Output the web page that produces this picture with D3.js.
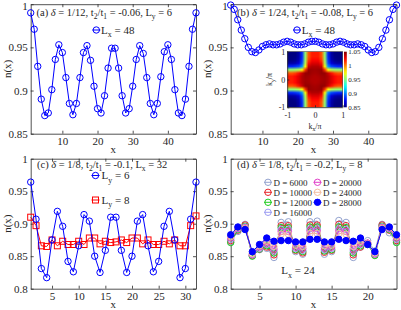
<!DOCTYPE html>
<html>
<head>
<meta charset="utf-8">
<script src="https://cdn.jsdelivr.net/npm/d3@7"></script>
<style>
body { margin: 0; background: #fff; }
svg { display: block; font-family: "Liberation Serif", "Times New Roman", serif; }
</style>
</head>
<body>
<svg id="fig" width="401" height="310"></svg>
<script>
// ---- data ----
var ticksX48 = [10, 20, 30, 40];
var ticksX32 = [5, 10, 15, 20, 25, 30];
var ticksX24 = [5, 10, 15, 20];
var ticksYTop = [0.85, 0.9, 0.95, 1];
var ticksYBot = [0.8, 0.85, 0.9, 0.95, 1];

// (a) Lx = 48
var nA = [0.990, 0.971, 0.928, 0.890, 0.871, 0.874, 0.901, 0.936, 0.953, 0.944, 0.915, 0.885,
          0.872, 0.885, 0.915, 0.944, 0.952, 0.935, 0.905, 0.879, 0.874, 0.894, 0.926, 0.949,
          0.949, 0.926, 0.894, 0.874, 0.879, 0.905, 0.936, 0.952, 0.943, 0.915, 0.885, 0.872,
          0.885, 0.916, 0.945, 0.953, 0.936, 0.901, 0.874, 0.871, 0.890, 0.928, 0.971, 0.990];
// (b) Lx = 48
var nB = [0.999, 0.994, 0.982, 0.970, 0.960, 0.950, 0.945, 0.944, 0.947, 0.951, 0.953, 0.954,
          0.953, 0.953, 0.954, 0.956, 0.957, 0.956, 0.954, 0.953, 0.953, 0.954, 0.956, 0.957,
          0.957, 0.956, 0.954, 0.953, 0.953, 0.954, 0.956, 0.957, 0.956, 0.954, 0.953, 0.953,
          0.954, 0.953, 0.951, 0.947, 0.944, 0.945, 0.950, 0.960, 0.970, 0.982, 0.994, 0.999];
// (c) Lx = 32
var nC6 = [0.964, 0.907, 0.831, 0.817, 0.875, 0.919, 0.896, 0.842, 0.826, 0.866, 0.914, 0.904,
           0.850, 0.825, 0.859, 0.910, 0.910, 0.859, 0.825, 0.850, 0.904, 0.914, 0.866, 0.826,
           0.842, 0.896, 0.919, 0.875, 0.817, 0.831, 0.907, 0.964];
var nC8 = [0.910, 0.897, 0.866, 0.865, 0.875, 0.866, 0.873, 0.868, 0.868, 0.873, 0.868, 0.878,
           0.878, 0.869, 0.873, 0.871, 0.872, 0.875, 0.871, 0.878, 0.878, 0.869, 0.875, 0.868,
           0.868, 0.873, 0.869, 0.875, 0.866, 0.866, 0.897, 0.912];
// (d) Lx = 24, bond dimension D
var nD6000  = [0.872, 0.888, 0.899, 0.851, 0.860, 0.862, 0.848, 0.902, 0.903, 0.857, 0.853, 0.903,
               0.904, 0.853, 0.857, 0.905, 0.902, 0.848, 0.864, 0.874, 0.858, 0.899, 0.886, 0.872];
var nD10000 = [0.874, 0.890, 0.898, 0.851, 0.861, 0.864, 0.852, 0.897, 0.897, 0.859, 0.855, 0.898,
               0.898, 0.856, 0.859, 0.899, 0.897, 0.852, 0.864, 0.870, 0.852, 0.898, 0.890, 0.874];
var nD12000 = [0.871, 0.891, 0.896, 0.850, 0.861, 0.866, 0.855, 0.894, 0.894, 0.860, 0.857, 0.895,
               0.895, 0.858, 0.860, 0.895, 0.894, 0.855, 0.866, 0.868, 0.851, 0.896, 0.891, 0.871];
var nD16000 = [0.876, 0.892, 0.895, 0.852, 0.862, 0.868, 0.858, 0.891, 0.891, 0.862, 0.859, 0.892,
               0.892, 0.860, 0.862, 0.892, 0.891, 0.858, 0.868, 0.870, 0.853, 0.895, 0.892, 0.876];
var nD20000 = [0.878, 0.893, 0.894, 0.853, 0.864, 0.870, 0.861, 0.888, 0.888, 0.864, 0.862, 0.889,
               0.889, 0.863, 0.864, 0.889, 0.888, 0.861, 0.870, 0.870, 0.854, 0.894, 0.893, 0.878];
var nD24000 = [0.880, 0.894, 0.893, 0.854, 0.866, 0.873, 0.865, 0.884, 0.884, 0.867, 0.865, 0.885,
               0.885, 0.866, 0.867, 0.885, 0.884, 0.865, 0.873, 0.869, 0.855, 0.893, 0.894, 0.880];
var nD28000 = [0.883, 0.895, 0.891, 0.857, 0.868, 0.878, 0.873, 0.874, 0.874, 0.872, 0.872, 0.876,
               0.876, 0.872, 0.872, 0.876, 0.874, 0.873, 0.878, 0.868, 0.857, 0.891, 0.895, 0.883];
var dLabels = ["D = 6000", "D = 10000", "D = 12000", "D = 16000", "D = 20000", "D = 24000", "D = 28000"];
var dColors = ["#94a3cf", "#e8262b", "#1fcc1f", "#9c9cf2", "#e040c8", "#f3bca0", "#0000ff"];

// inset n(k): one quadrant, rows |ky| = 0..1, cols |kx| = 0..1 (step 1/8), mirrored
var nkQuad = [
  [1.040, 1.040, 1.042, 1.043, 1.040, 1.032, 1.024, 1.020, 1.020],
  [1.040, 1.041, 1.043, 1.044, 1.040, 1.032, 1.024, 1.020, 1.020],
  [1.042, 1.043, 1.046, 1.045, 1.035, 1.022, 1.012, 1.008, 1.008],
  [1.043, 1.044, 1.045, 1.015, 0.975, 0.960, 0.955, 0.953, 0.953],
  [1.040, 1.040, 1.035, 0.975, 0.905, 0.890, 0.885, 0.882, 0.882],
  [1.032, 1.032, 1.022, 0.960, 0.890, 0.868, 0.860, 0.858, 0.858],
  [1.024, 1.024, 1.012, 0.955, 0.885, 0.860, 0.853, 0.851, 0.850],
  [1.020, 1.020, 1.008, 0.953, 0.882, 0.858, 0.851, 0.850, 0.850],
  [1.020, 1.020, 1.008, 0.953, 0.882, 0.858, 0.850, 0.850, 0.850]
];
var cbarTicks = [0.85, 0.9, 0.95, 1, 1.05];
var kTicks = [-1, 0, 1];

// ---- drawing ----
var svg = d3.select("#fig");
var ink = "#262626";
var fmt = function (d) { return String(d); };

function rich(g, x, y, parts, size, anchor) {
    var t = g.append("text").attr("x", x).attr("y", y).attr("font-size", size)
        .attr("fill", ink).attr("text-anchor", anchor || "start");
    var shift = 0;
    parts.forEach(function (p) {
        var s = t.append("tspan").text(p[0]);
        var want = p[1] === "sub" ? size * 0.32 : 0;
        s.attr("dy", want - shift);
        shift = want;
        if (p[1] === "sub") s.attr("font-size", size * 0.72);
        if (p[1] === "it") s.style("font-style", "italic");
    });
    return t;
}

function styleAxis(a, size) {
    a.attr("font-family", null).attr("font-size", size).attr("color", ink);
    a.selectAll("path, line").attr("stroke-width", 0.8);
}

function panel(o) {
    var g = svg.append("g");
    var x = d3.scaleLinear().domain(o.xDom).range([o.L, o.R]);
    var y = d3.scaleLinear().domain(o.yDom).range([o.B, o.T]);
    var ab = g.append("g").attr("transform", "translate(0," + o.B + ")")
        .call(d3.axisBottom(x).tickValues(o.xTicks).tickSize(-3).tickSizeOuter(0).tickPadding(4).tickFormat(fmt));
    var at = g.append("g").attr("transform", "translate(0," + o.T + ")")
        .call(d3.axisTop(x).tickValues(o.xTicks).tickSize(-3).tickSizeOuter(0).tickFormat(""));
    var al = g.append("g").attr("transform", "translate(" + o.L + ",0)")
        .call(d3.axisLeft(y).tickValues(o.yTicks).tickSize(-3).tickSizeOuter(0).tickPadding(3).tickFormat(fmt));
    var ar = g.append("g").attr("transform", "translate(" + o.R + ",0)")
        .call(d3.axisRight(y).tickValues(o.yTicks).tickSize(-3).tickSizeOuter(0).tickFormat(""));
    [ab, at, al, ar].forEach(function (a) { styleAxis(a, 11); });
    // keep the top "1" label inside the page
    if (o.T < 10) al.selectAll(".tick text").filter(function (d) { return d === 1; }).attr("dy", "0.5em");

    g.append("text").attr("x", (o.L + o.R) / 2).attr("y", o.xlabY).attr("text-anchor", "middle")
        .attr("font-size", 11).attr("fill", ink).text("x");
    g.append("text").attr("transform", "translate(" + (o.L - 20.2) + "," + ((o.T + o.B) / 2) + ") rotate(-90)")
        .attr("text-anchor", "middle").attr("font-size", 11).attr("fill", ink).text("n(x)");
    return { g: g, x: x, y: y };
}

function series(p, ys, color, marker, filled) {
    var xs = ys.map(function (d, i) { return i + 1; });
    var line = d3.line().x(function (d, i) { return p.x(xs[i]); }).y(function (d) { return p.y(d); });
    p.g.append("path").datum(ys).attr("d", line).attr("fill", "none")
        .attr("stroke", color).attr("stroke-width", 1);
    if (marker === "s") {
        p.g.append("g").selectAll("rect").data(ys).join("rect")
            .attr("x", function (d, i) { return p.x(xs[i]) - 3; })
            .attr("y", function (d) { return p.y(d) - 3; })
            .attr("width", 6).attr("height", 6)
            .attr("fill", "none").attr("stroke", color).attr("stroke-width", 1);
    } else {
        p.g.append("g").selectAll("circle").data(ys).join("circle")
            .attr("cx", function (d, i) { return p.x(xs[i]); })
            .attr("cy", function (d) { return p.y(d); })
            .attr("r", 3.2)
            .attr("fill", filled ? color : "none").attr("stroke", color).attr("stroke-width", 1);
    }
}

function legendMark(g, cx, cy, color, marker, filled) {
    g.append("line").attr("x1", cx - 4).attr("x2", cx + 4).attr("y1", cy).attr("y2", cy)
        .attr("stroke", color).attr("stroke-width", 1);
    if (marker === "s") {
        g.append("rect").attr("x", cx - 3).attr("y", cy - 3).attr("width", 6).attr("height", 6)
            .attr("fill", "none").attr("stroke", color);
    } else {
        g.append("circle").attr("cx", cx).attr("cy", cy).attr("r", 3.2)
            .attr("fill", filled ? color : "none").attr("stroke", color);
    }
}

var L1 = 30.7, R1 = 196, L2 = 230.7, R2 = 396.5;
var T1 = 4.2, B1 = 133.7, T2 = 158.7, B2 = 288.7;
var titleSize = 10.5;

// (a)
var pa = panel({ L: L1, R: R1, T: T1, B: B1, xDom: [1, 48], yDom: [0.85, 1], xTicks: ticksX48, yTicks: ticksYTop, xlabY: 153 });
series(pa, nA, "#0000ff", "o");
rich(pa.g, 36.5, 16, [["(a) "], ["δ", "it"], [" = 1/12, t"], ["2", "sub"], ["/t"], ["1", "sub"], [" = -0.06, L"], ["y", "sub"], [" = 6"]], titleSize);
legendMark(pa.g, 96.3, 30, "#0000ff", "o");
rich(pa.g, 101, 33.8, [["L"], ["x", "sub"], [" = 48"]], 11);

// (b)
var pb = panel({ L: L2, R: R2, T: T1, B: B1, xDom: [1, 48], yDom: [0.85, 1], xTicks: ticksX48, yTicks: ticksYTop, xlabY: 153 });
series(pb, nB, "#0000ff", "o");
rich(pb.g, 237, 16, [["(b) "], ["δ", "it"], [" = 1/24, t"], ["2", "sub"], ["/t"], ["1", "sub"], [" = -0.08, L"], ["y", "sub"], [" = 6"]], titleSize);
legendMark(pb.g, 297, 30, "#0000ff", "o");
rich(pb.g, 301.7, 33.8, [["L"], ["x", "sub"], [" = 48"]], 11);

// inset heatmap in (b)
(function () {
    var hx0 = 287.3, hx1 = 342.7, hy0 = 51.7, hy1 = 107.3;
    var jet = function (t) {
        var c = function (v) { return Math.max(0, Math.min(1, v)); };
        return d3.rgb(255 * c(1.5 - Math.abs(4 * t - 3)), 255 * c(1.5 - Math.abs(4 * t - 2)), 255 * c(1.5 - Math.abs(4 * t - 1)));
    };
    var color = d3.scaleSequential(jet).domain([0.85, 1.05]).clamp(true);
    var n = nkQuad.length, N = 2 * n - 1;
    var cv = document.createElement("canvas");
    cv.width = N; cv.height = N;
    var ctx = cv.getContext("2d");
    var img = ctx.createImageData(N, N);
    for (var r = 0; r < N; r++) {
        for (var c = 0; c < N; c++) {
            var v = nkQuad[Math.abs(r - (n - 1))][Math.abs(c - (n - 1))];
            var col = d3.rgb(color(v));
            var k = 4 * (r * N + c);
            img.data[k] = col.r; img.data[k + 1] = col.g; img.data[k + 2] = col.b; img.data[k + 3] = 255;
        }
    }
    ctx.putImageData(img, 0, 0);
    var ig = svg.append("g");
    ig.append("image").attr("href", cv.toDataURL()).attr("x", hx0).attr("y", hy0)
        .attr("width", hx1 - hx0).attr("height", hy1 - hy0).attr("preserveAspectRatio", "none");

    var kx = d3.scaleLinear().domain([-1, 1]).range([hx0, hx1]);
    var ky = d3.scaleLinear().domain([-1, 1]).range([hy1, hy0]);
    var a1 = ig.append("g").attr("transform", "translate(0," + hy1 + ")")
        .call(d3.axisBottom(kx).tickValues(kTicks).tickSize(-2).tickSizeOuter(0).tickPadding(5).tickFormat(fmt));
    var a2 = ig.append("g").attr("transform", "translate(" + hx0 + ",0)")
        .call(d3.axisLeft(ky).tickValues(kTicks).tickSize(-2).tickSizeOuter(0).tickPadding(2).tickFormat(fmt));
    [a1, a2].forEach(function (a) { styleAxis(a, 8); a.select(".domain").attr("stroke-width", 0.5); });
    ig.append("rect").attr("x", hx0).attr("y", hy0).attr("width", hx1 - hx0).attr("height", hy1 - hy0)
        .attr("fill", "none").attr("stroke", ink).attr("stroke-width", 0.5);
    rich(ig, (hx0 + hx1) / 2, 128.5, [["k"], ["x", "sub"], ["/π"]], 8, "middle");
    rich(ig.append("g").attr("transform", "translate(272," + ((hy0 + hy1) / 2) + ") rotate(-90)"), 0, 0,
        [["k"], ["y", "sub"], ["/π"]], 8, "middle");

    // colorbar
    var cbx = 344, cbw = 2.8;
    var grad = svg.append("defs").append("linearGradient").attr("id", "jetGrad")
        .attr("x1", 0).attr("x2", 0).attr("y1", 1).attr("y2", 0);
    d3.range(0, 1.0001, 0.05).forEach(function (t) {
        grad.append("stop").attr("offset", t).attr("stop-color", jet(t));
    });
    ig.append("rect").attr("x", cbx).attr("y", hy0).attr("width", cbw).attr("height", hy1 - hy0)
        .attr("fill", "url(#jetGrad)");
    var cs = d3.scaleLinear().domain([0.85, 1.05]).range([hy1, hy0]);
    var ac = ig.append("g").attr("transform", "translate(" + (cbx + cbw) + ",0)")
        .call(d3.axisRight(cs).tickValues(cbarTicks).tickSize(0).tickSizeOuter(0).tickPadding(1.5).tickFormat(fmt));
    styleAxis(ac, 7);
    ac.select(".domain").remove();
})();

// (c)
var pc = panel({ L: L1, R: R1, T: T2, B: B2, xDom: [1, 32], yDom: [0.8, 1], xTicks: ticksX32, yTicks: ticksYBot, xlabY: 308 });
series(pc, nC8, "#ff0000", "s");
series(pc, nC6, "#0000ff", "o");
rich(pc.g, 37, 167.5, [["(c) "], ["δ", "it"], [" = 1/8, t"], ["2", "sub"], ["/t"], ["1", "sub"], [" = -0.1, L"], ["x", "sub"], [" = 32"]], titleSize);
legendMark(pc.g, 95.5, 175.5, "#0000ff", "o");
rich(pc.g, 101.5, 179.3, [["L"], ["y", "sub"], [" = 6"]], 11);
legendMark(pc.g, 95.5, 200, "#ff0000", "s");
rich(pc.g, 101.5, 203.8, [["L"], ["y", "sub"], [" = 8"]], 11);

// (d)
var pd = panel({ L: L2, R: R2, T: T2, B: B2, xDom: [1, 24], yDom: [0.8, 1], xTicks: ticksX24, yTicks: ticksYBot, xlabY: 308 });
var dSeries = [nD6000, nD10000, nD12000, nD16000, nD20000, nD24000, nD28000];
dSeries.forEach(function (s, i) { series(pd, s, dColors[i], "o", i === 6); });
rich(pd.g, 237, 167.5, [["(d) "], ["δ", "it"], [" = 1/8, t"], ["2", "sub"], ["/t"], ["1", "sub"], [" = -0.2, L"], ["y", "sub"], [" = 8"]], titleSize);
dLabels.forEach(function (lab, i) {
    var col = i < 4 ? 0 : 1, row = i < 4 ? i : i - 4;
    var mx = col === 0 ? 268 : 317.5, my = 182.3 + row * 10;
    legendMark(pd.g, mx, my, dColors[i], "o", i === 6);
    pd.g.append("text").attr("x", mx + 5.5).attr("y", my + 3.2).attr("font-size", 9)
        .attr("fill", ink).text(lab);
});
rich(pd.g, 298, 274, [["L"], ["x", "sub"], [" = 24"]], 11, "middle");
</script>
</body>
</html>
